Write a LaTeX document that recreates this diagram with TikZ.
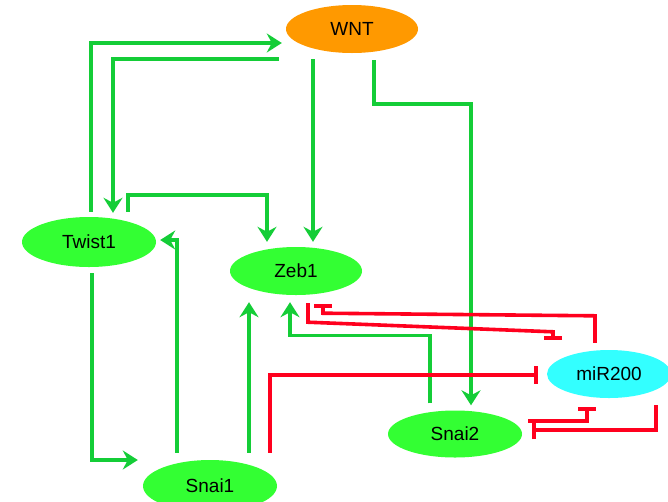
\documentclass[tikz,border=0pt]{standalone}
\usepackage{fontspec}
\setmainfont{Liberation Sans}
\usetikzlibrary{shapes.geometric,arrows.meta,calc}
\definecolor{nodegreen}{RGB}{51,255,51}
\definecolor{wntorange}{RGB}{255,153,0}
\definecolor{mircyan}{RGB}{51,255,255}
\definecolor{actgreen}{RGB}{20,205,55}
\definecolor{inhred}{RGB}{255,0,30}
\tikzset{
  gene/.style={ellipse, fill=nodegreen, inner sep=0pt, text=black,
    font=\fontsize{19}{22}\selectfont},
  act/.style={draw=actgreen, line width=3.6pt, -{Stealth[length=15pt,width=19pt,inset=5pt]}},
  inh/.style={draw=inhred, line width=3.6pt, -{Bar[width=18pt]}},
}
\begin{document}
\begin{tikzpicture}[x=1pt,y=-1pt]
\clip (0,0) rectangle (668,501);
\fill[white] (0,0) rectangle (668,501);
\node[gene, fill=wntorange, minimum width=132pt, minimum height=48pt] (wnt) at (352,29) {WNT};
\node[gene, minimum width=134pt, minimum height=50pt] (twist) at (89,242) {Twist1};
\node[gene, minimum width=132pt, minimum height=48pt] (zeb) at (296,271) {Zeb1};
\node[gene, fill=mircyan, minimum width=124pt, minimum height=48pt] (mir) at (609,374) {miR200};
\node[gene, minimum width=134pt, minimum height=47pt] (snai2) at (455,434) {Snai2};
\node[gene, minimum width=134pt, minimum height=52pt] (snai1) at (210,486) {Snai1};
% Twist1 -> WNT
\draw[act] ($(twist.north)+(2,-5)$) |- ($(wnt.west)+(-4,14)$);
% WNT -> Twist1
\draw[act] ($(wnt.south)+(-73,6)$) -| ($(twist.north)+(24,-4)$);
% Twist1 -> Zeb1
\draw[act] ($(twist.north)+(39,-5)$) -- ++(0,-17) -| ($(zeb.north)+(-29,-5)$);
% WNT -> Zeb1
\draw[act] ($(wnt.south)+(-39,6)$) -- ($(zeb.north)+(17,-5)$);
% WNT -> Snai2
\draw[act] ($(wnt.south)+(22,7)$) -- ++(0,44) -| ($(snai2.north)+(16,-5)$);
% Snai1 -> Twist1
\draw[act] ($(snai1.north)+(-33,-7)$) |- ($(twist.east)+(4,-2)$);
% Twist1 -> Snai1
\draw[act] ($(twist.south)+(3,6)$) |- ($(snai1.west)+(-5,-26)$);
% Snai1 -> Zeb1
\draw[act] ($(snai1.north)+(39,-7)$) -- ($(zeb.south)+(-47,7)$);
% Snai2 -> Zeb1
\draw[act] ($(snai2.north)+(-25,-7)$) -- ++(0,-68) -| ($(zeb.south)+(-6,7)$);
% Snai1 -| miR200
\draw[inh] ($(snai1.north)+(60,-7)$) |- ($(mir.west)+(-9,1)$);
% Zeb1 -| miR200
\coordinate (zm) at ($(mir.north)+(-56,-18)$);
\draw[inh] ($(zeb.south)+(12,8)$) -- ++(0,19) -- (zm) -- ($(mir.north)+(-56,-10)$);
% miR200 -| Zeb1
\coordinate (mz) at ($(zeb.south)+(27,18)$);
\draw[inh] ($(mir.north)+(-14,-7)$) -- ++(0,-27) -- (mz) -- ($(zeb.south)+(27,9)$);
% Snai2 -| miR200
\draw[inh] ($(snai2.east)+(6,-13)$) -| ($(mir.south)+(-22,9)$);
% miR200 -| Snai2
\draw[inh] ($(mir.south)+(47,7)$) |- ($(snai2.east)+(10,-4)$);
\end{tikzpicture}
\end{document}
